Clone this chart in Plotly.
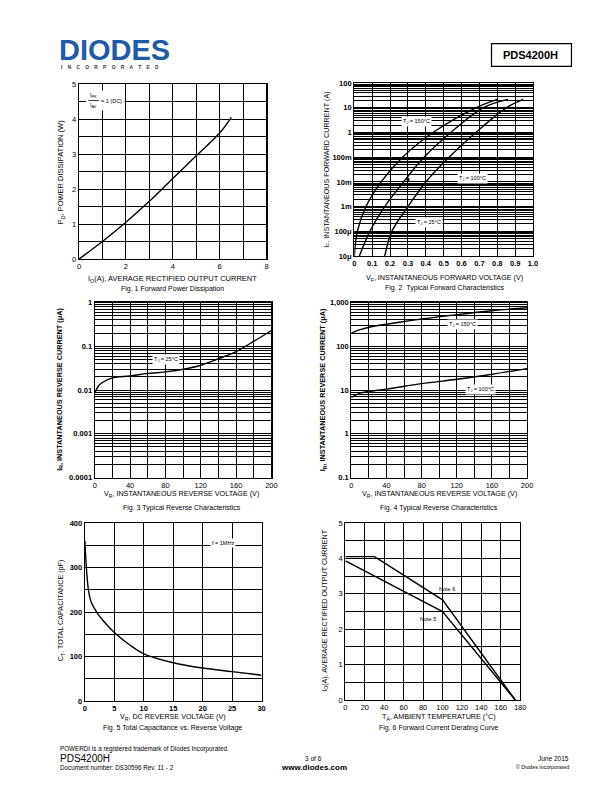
import math
import plotly.graph_objects as go

W, H = 612, 792
FONT = "Liberation Sans, Arial, sans-serif"

# ---------------- data ----------------
# Fig 1 Forward Power Dissipation
f1_io = [0, 1, 2, 3, 4, 5, 6, 6.5]
f1_pd = [0, 0.5, 1.05, 1.65, 2.3, 2.95, 3.6, 4.05]

# Fig 2 Typical Forward Characteristics (IF in A)
f2_if = [1e-5, 1e-4, 1e-3, 1e-2, 1e-1, 1, 10, 22]
f2_vf_150 = [0.0, 0.017, 0.065, 0.15, 0.27, 0.44, 0.68, 0.80]
f2_vf_100 = [0.028, 0.087, 0.17, 0.275, 0.39, 0.54, 0.72, 0.86]
f2_vf_25 = [0.17, 0.21, 0.30, 0.40, 0.53, 0.68, 0.85, 0.945]
f2_yticks = [100, 10, 1, 0.1, 0.01, 0.001, 1e-4, 1e-5]
f2_ylabels = ["100", "10", "1", "100m", "10m", "1m", "100\u03bc", "10\u03bc"]
f2_xticks = [0, 0.1, 0.2, 0.3, 0.4, 0.5, 0.6, 0.7, 0.8, 0.9, 1.0]
f2_xlabels = ["0", "0.1", "0.2", "0.3", "0.4", "0.5", "0.6", "0.7", "0.8", "0.9", "1.0"]

# Fig 3 Typical Reverse Characteristics, TJ = 25C (uA)
f3_vr = [0, 5, 10, 20, 40, 60, 80, 100, 120, 140, 160, 180, 200]
f3_ir = [0.0085, 0.013, 0.0155, 0.019, 0.021, 0.024, 0.026, 0.030, 0.037, 0.052, 0.076, 0.13, 0.23]
f3_yticks = [1, 0.1, 0.01, 0.001, 0.0001]
f3_ylabels = ["1", "0.1", "0.01", "0.001", "0.0001"]

# Fig 4 Typical Reverse Characteristics (uA)
f4_vr = [0, 10, 20, 40, 80, 120, 160, 200]
f4_ir_150 = [200, 240, 272, 320, 420, 530, 650, 760]
f4_ir_100 = [6.8, 8.5, 9.3, 10.5, 14, 17.6, 23, 31]
f4_yticks = [1000, 100, 10, 1, 0.1]
f4_ylabels = ["1,000", "100", "10", "1", "0.1"]

# Fig 5 Total Capacitance vs Reverse Voltage
f5_vr = [0, 0.3, 0.6, 1.0, 2.0, 3.0, 5.0, 7.5, 10, 15, 20, 25, 30]
f5_ct = [360, 290, 250, 225, 200, 182, 154, 127, 106, 86, 74, 66, 58]

# Fig 6 Forward Current Derating Curve
f6_ta_n6 = [0, 30, 100, 175]
f6_io_n6 = [4.05, 4.05, 2.83, 0]
f6_ta_n5 = [0, 100, 175]
f6_io_n5 = [3.93, 2.5, 0]


def px(x):
    return x / W


def py(y):
    return 1 - y / H


def dom_x(a, b):
    return [px(a), px(b)]


def dom_y(top, bottom):
    return [py(bottom), py(top)]


fig = go.Figure()
LINE = dict(color="black", width=1.4)

fig.add_trace(go.Scatter(x=f1_io, y=f1_pd, mode="lines", line=dict(LINE, shape="spline"),
                         xaxis="x", yaxis="y", showlegend=False))
for v in (f2_vf_150, f2_vf_100, f2_vf_25):
    fig.add_trace(go.Scatter(x=v, y=f2_if, mode="lines", line=dict(LINE, shape="spline"),
                             xaxis="x2", yaxis="y2", showlegend=False))
fig.add_trace(go.Scatter(x=f3_vr, y=f3_ir, mode="lines", line=dict(LINE, shape="spline"),
                         xaxis="x3", yaxis="y3", showlegend=False))
for ir in (f4_ir_150, f4_ir_100):
    fig.add_trace(go.Scatter(x=f4_vr, y=ir, mode="lines", line=dict(LINE, shape="spline"),
                             xaxis="x4", yaxis="y4", showlegend=False))
fig.add_trace(go.Scatter(x=f5_vr, y=f5_ct, mode="lines", line=dict(LINE, shape="spline"),
                         xaxis="x5", yaxis="y5", showlegend=False))
fig.add_trace(go.Scatter(x=f6_ta_n6, y=f6_io_n6, mode="lines", line=LINE,
                         xaxis="x6", yaxis="y6", showlegend=False))
fig.add_trace(go.Scatter(x=f6_ta_n5, y=f6_io_n5, mode="lines", line=LINE,
                         xaxis="x6", yaxis="y6", showlegend=False))

TICKF = dict(family=FONT, size=7.5, color="black")
TICKB = dict(family=FONT, size=7.5, color="black", weight="bold")


def lin_axis(domain, rng, dtick, minor, anchor, font=TICKF):
    d = dict(domain=domain, range=rng, dtick=dtick, tick0=0, showgrid=True, gridcolor="black",
             gridwidth=1, showline=True, linecolor="black", linewidth=1.2, mirror=True,
             ticks="", zeroline=False, tickfont=font, anchor=anchor, fixedrange=True)
    if minor:
        d["minor"] = dict(dtick=minor, tick0=0, showgrid=True, gridcolor="black", gridwidth=1)
    return d


def log_axis(domain, rng, tickvals, ticktext, anchor, font=TICKB):
    return dict(domain=domain, type="log", range=rng, tickvals=tickvals, ticktext=ticktext,
                showgrid=True, gridcolor="black", gridwidth=1, showline=True, linecolor="black",
                linewidth=1.2, mirror=True, ticks="", zeroline=False, tickfont=font,
                anchor=anchor, fixedrange=True,
                minor=dict(dtick="D1", showgrid=True, gridcolor="black", gridwidth=1))


layout = dict(
    width=W, height=H, margin=dict(l=0, r=0, t=0, b=0),
    paper_bgcolor="white", plot_bgcolor="white", showlegend=False, hovermode=False,
    font=dict(family=FONT, color="black"),
    # Fig 1
    xaxis=lin_axis(dom_x(78, 268), [0, 8], 2, 1, "y"),
    yaxis=lin_axis(dom_y(81, 258), [0, 5], 1, 0.5, "x"),
    # Fig 2
    xaxis2=dict(lin_axis(dom_x(357, 538), [0, 1.0], 0.1, None, "y2", TICKB),
                tickvals=f2_xticks, ticktext=f2_xlabels),
    yaxis2=log_axis(dom_y(80, 255), [-5, 2], f2_yticks, f2_ylabels, "x2"),
    # Fig 3
    xaxis3=lin_axis(dom_x(94, 273), [0, 200], 40, 20, "y3"),
    yaxis3=log_axis(dom_y(302, 479), [-4, 0], f3_yticks, f3_ylabels, "x3"),
    # Fig 4
    xaxis4=lin_axis(dom_x(354, 532), [0, 200], 40, 20, "y4"),
    yaxis4=log_axis(dom_y(302, 479), [-1, 3], f4_yticks, f4_ylabels, "x4"),
    # Fig 5
    xaxis5=lin_axis(dom_x(84, 263), [0, 30], 5, None, "y5", TICKB),
    yaxis5=lin_axis(dom_y(525, 705), [0, 400], 100, 50, "x5", TICKB),
    # Fig 6
    xaxis6=lin_axis(dom_x(348, 525), [0, 180], 20, None, "y6"),
    yaxis6=lin_axis(dom_y(525, 704), [0, 5], 1, 0.5, "x6"),
)
fig.update_layout(**layout)

ann = []


def text(x, y, s, size=7.5, angle=0, xanchor="center", bold=False, color="black", bg=None):
    d = dict(x=px(x), y=py(y), xref="paper", yref="paper", text=s, showarrow=False,
             font=dict(family=FONT, size=size, color=color, weight="bold" if bold else "normal"),
             textangle=angle, xanchor=xanchor, yanchor="middle")
    if bg:
        d["bgcolor"] = bg
        d["borderpad"] = 1
    ann.append(d)


# axis titles and captions
text(60, 170, "P<sub>D</sub>, POWER DISSIPATION (W)", 7.5, -90)
text(173, 278, "I<sub>O</sub>(A), AVERAGE RECTIFIED OUTPUT CURRENT", 7.5)
text(173, 288, "Fig. 1 Forward Power Dissipation", 7)

text(329, 168, "I<sub>F</sub>, INSTANTANEOUS FORWARD CURRENT (A)", 7.2, -90)
text(448, 277, "V<sub>F</sub>, INSTANTANEOUS FORWARD VOLTAGE (V)", 7.2)
text(448, 287, "Fig. 2  Typical Forward Characteristics", 7)

text(58, 390, "I<sub>R</sub>, INSTANTANEOUS REVERSE CURRENT (\u03bcA)", 7.3, -90, bold=True)
text(182, 496, "V<sub>R</sub>, INSTANTANEOUS REVERSE VOLTAGE (V)", 7.2)
text(182, 510, "Fig. 3 Typical Reverse Characteristics", 7)

text(325, 390, "I<sub>R</sub>, INSTANTANEOUS REVERSE CURRENT (\u03bcA)", 7.3, -90, bold=True)
text(443, 496, "V<sub>R</sub>, INSTANTANEOUS REVERSE VOLTAGE (V)", 7.2)
text(443, 510, "Fig. 4 Typical Reverse Characteristics", 7)

text(60, 613, "C<sub>T</sub>, TOTAL CAPACITANCE (pF)", 7.2, -90)
text(173, 721, "V<sub>R</sub>, DC REVERSE VOLTAGE (V)", 7.2)
text(173, 732, "Fig. 5 Total Capacitance vs. Reverse Voltage", 7)

text(327, 614, "I<sub>O</sub>(A), AVERAGE RECTIFIED OUTPUT CURRENT", 7.2, -90)
text(443, 721, "T<sub>A</sub>, AMBIENT TEMPERATURE (\u00b0C)", 7.2)
text(443, 732, "Fig. 6 Forward Current Derating Curve", 7)


# in-plot labels (data coordinates; log axes take log10 positions)
def dlabel(xr, yr, x, y, s, size=5.5, bg="white", log=False):
    yy = math.log10(y) if log else y
    d = dict(x=x, y=yy, xref=xr, yref=yr, text=s, showarrow=False,
             font=dict(family=FONT, size=size, color="black"), borderpad=1,
             xanchor="center", yanchor="middle")
    if bg:
        d["bgcolor"] = bg
    ann.append(d)


# Fig 1 fraction label
dlabel("x", "y", 0.62, 4.67, "I<sub>PK</sub>", 5.5, None)
dlabel("x", "y", 0.62, 4.39, "I<sub>AV</sub>", 5.5, None)
dlabel("x", "y", 1.4, 4.53, "= 1 (DC)", 5.5, None)

dlabel("x2", "y2", 0.35, 2.8, "T<sub>J</sub> = 150\u00b0C", log=True)
dlabel("x2", "y2", 0.66, 0.014, "T<sub>J</sub> = 100\u00b0C", log=True)
dlabel("x2", "y2", 0.42, 2.2e-4, "T<sub>J</sub> = 25\u00b0C", log=True)
ann.append(dict(x=0.285, y=math.log10(0.0125), xref="x2", yref="y2", text="", showarrow=True,
                arrowhead=2, arrowsize=0.8, arrowwidth=1, ax=6, ay=0, arrowcolor="black"))
dlabel("x3", "y3", 81, 0.05, "T<sub>J</sub> = 25\u00b0C", log=True)
dlabel("x4", "y4", 126, 320, "T<sub>J</sub> = 150\u00b0C", log=True)
dlabel("x4", "y4", 147, 10.5, "T<sub>J</sub> = 100\u00b0C", log=True)
dlabel("x5", "y5", 23.5, 354, "f = 1MHz")
dlabel("x6", "y6", 105, 3.15, "Note 6", 5.5, None)
dlabel("x6", "y6", 85, 2.3, "Note 5", 5.5, None)

# header
text(56, 47, "DIODES", 29, xanchor="left", bold=True, color="#1f5aa6")
sp = "&nbsp;" * 4
text(58, 64, sp.join("INCORPORATED"), 4.8, xanchor="left", bold=True, color="#333333")
text(536, 51.5, "PDS4200H", 11, bold=True)

# footer
text(57, 754, "POWERDI is a registered trademark of Diodes Incorporated.", 6.3, xanchor="left")
text(57, 763, "PDS4200H", 10, xanchor="left")
text(57, 772, "Document number: DS30596 Rev. 11 - 2", 6.3, xanchor="left")
text(316, 763, "3 of 6", 6.5)
text(316, 772, "www.diodes.com", 8, bold=True)
text(577, 763, "June 2015", 6.5, xanchor="right")
text(577, 772, "\u00a9 Diodes Incorporated", 5.3, xanchor="right")

fig.update_layout(annotations=ann)
fig.add_shape(type="rect", xref="paper", yref="paper", x0=px(496), x1=px(577), y0=py(63), y1=py(40),
              line=dict(color="black", width=1.2))
# white box behind fig 1 label, and fraction bar
fig.add_shape(type="rect", xref="x", yref="y", x0=0.3, x1=1.95, y0=4.25, y1=4.82,
              fillcolor="white", line=dict(width=0), layer="above")
fig.add_shape(type="line", xref="x", yref="y", x0=0.4, x1=0.85, y0=4.53, y1=4.53,
              line=dict(color="black", width=0.8), layer="above")

fig.write_html("out.html", config={"displayModeBar": False, "staticPlot": True},
               post_script="document.body.style.margin='0px';document.body.style.overflow='hidden';")
